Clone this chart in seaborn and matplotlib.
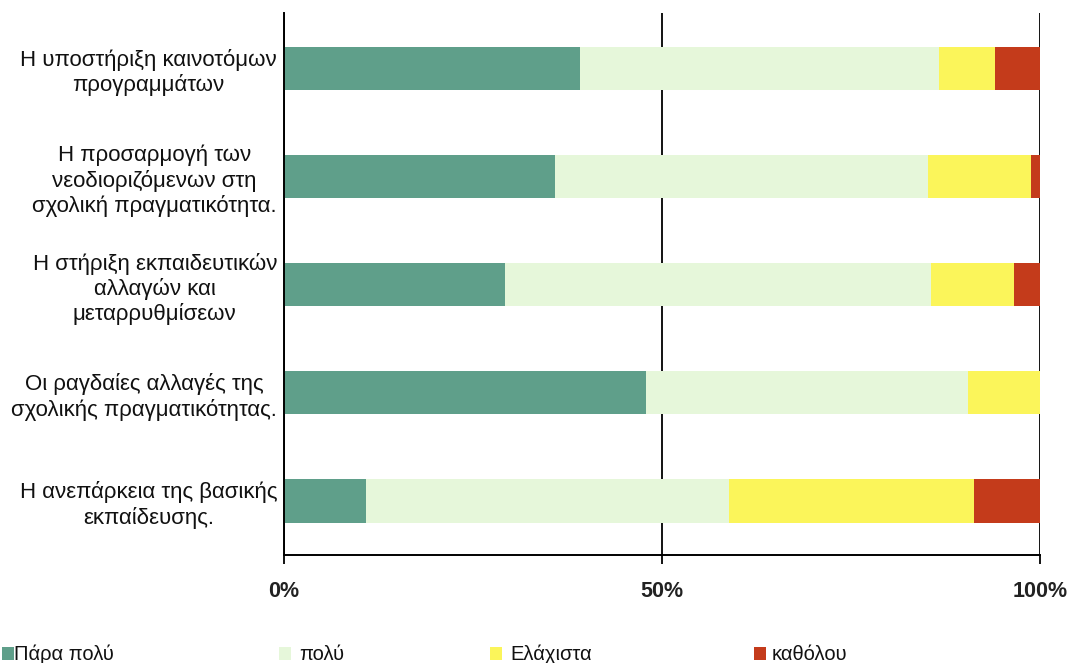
import matplotlib
matplotlib.use("Agg")
import matplotlib.pyplot as plt
from matplotlib.patches import Rectangle
import seaborn as sns
import numpy as np
import pandas as pd

categories = [
    "Η υποστήριξη καινοτόμων\nπρογραμμάτων",
    "Η προσαρμογή των\nνεοδιοριζόμενων στη\nσχολική πραγματικότητα.",
    "Η στήριξη εκπαιδευτικών\nαλλαγών και\nμεταρρυθμίσεων",
    "Οι ραγδαίες αλλαγές της\nσχολικής πραγματικότητας.",
    "Η ανεπάρκεια της βασικής\nεκπαίδευσης.",
]
para_poly = [39.1, 35.9, 29.2, 47.9, 10.9]
poly = [47.6, 49.3, 56.4, 42.6, 47.9]
elaxista = [7.3, 13.6, 10.9, 9.5, 32.5]
katholou = [6.0, 1.2, 3.5, 0.0, 8.7]

series_names = ["Πάρα πολύ", "πολύ", "Ελάχιστα", "καθόλου"]
colors = ["#5f9f8a", "#e6f7da", "#fbf55a", "#c43b1b"]
xticks = [0, 50, 100]
xtick_labels = ["0%", "50%", "100%"]

sns.set_theme(style="white")
plt.rcParams["font.family"] = ["Liberation Sans", "DejaVu Sans"]

W, H = 1068, 663
fig = plt.figure(figsize=(W / 100, H / 100), dpi=100)
ax = fig.add_axes([284 / W, 1 - 555 / H, (1040 - 284) / W, (555 - 13) / H])

df = pd.DataFrame({"cat": categories, "p1": para_poly, "p2": poly,
                   "p3": elaxista, "p4": katholou})
vals = df[["p1", "p2", "p3", "p4"]].to_numpy()
cum = np.cumsum(vals, axis=1)

for i in range(3, -1, -1):
    sns.barplot(x=cum[:, i], y=df["cat"], orient="h", color=colors[i],
                width=0.40, ax=ax, saturation=1, linewidth=0, zorder=2,
                order=categories)

ax.set_xlim(0, 100)
ax.set_ylim(4.5, -0.514)
ax.set_xlabel("")
ax.set_ylabel("")
ax.set_axisbelow(True)
ax.xaxis.grid(True, color="black", linewidth=1.3, zorder=0)
ax.yaxis.grid(False)
for s in ["top", "right"]:
    ax.spines[s].set_visible(False)
for s in ["left", "bottom"]:
    ax.spines[s].set_visible(True)
    ax.spines[s].set_color("black")
    ax.spines[s].set_linewidth(1.4)

ax.set_xticks(xticks)
ax.set_xticklabels(xtick_labels, fontsize=15.5, fontweight="bold", color="#222222")
ax.tick_params(axis="x", direction="out", length=6.5, width=1.3, color="black",
               bottom=True, pad=12)
ax.tick_params(axis="y", length=0, pad=5)
for t in ax.get_yticklabels():
    t.set_fontsize(16)
    t.set_multialignment("center")
    t.set_color("#111111")
    t.set_linespacing(1.2)

# legend along the bottom edge
leg_items = [(2, 14), (279, 299), (490, 510), (754, 772)]
for (sx, tx), name, c in zip(leg_items, series_names, colors):
    fig.patches.append(Rectangle((sx / W, 1 - 660 / H), 12 / W, 13 / H,
                                 transform=fig.transFigure, facecolor=c,
                                 edgecolor="none", figure=fig))
    fig.text(tx / W, 1 - 654 / H, name, fontsize=14.5, va="center",
             ha="left", color="#111111",
             family=["Liberation Sans Narrow", "Liberation Sans", "DejaVu Sans"])

fig.savefig("out.png", dpi=100)
